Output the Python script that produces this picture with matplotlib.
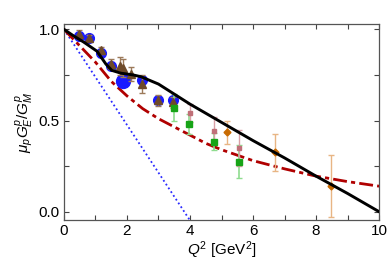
import matplotlib
matplotlib.use('Agg')
import matplotlib.pyplot as plt

plt.rcParams['font.family'] = ['Liberation Sans', 'DejaVu Sans']
plt.rcParams['mathtext.fontset'] = 'custom'
plt.rcParams['mathtext.rm'] = 'Liberation Sans'
plt.rcParams['mathtext.it'] = 'Liberation Sans:italic'

# theory curves
fit_q2 = [0, 0.3, 0.63, 1.05, 1.33, 1.52, 1.8, 2.2, 2.45, 3.0, 4.0, 5.0, 6.0, 7.0, 8.0, 9.0, 10.0]
fit_r = [1.0, 0.965, 0.93, 0.88, 0.81, 0.775, 0.76, 0.75, 0.74, 0.70, 0.59, 0.49, 0.39, 0.295, 0.195, 0.10, 0.0]

dd_q2 = [0, 0.5, 1.0, 1.5, 2.0, 2.5, 3.0, 3.5, 4.0, 4.5, 5.0, 6.0, 7.0, 8.0, 9.0, 10.0]
dd_r = [1.0, 0.91, 0.82, 0.715, 0.635, 0.565, 0.51, 0.465, 0.42, 0.375, 0.34, 0.28, 0.235, 0.195, 0.165, 0.14]

lin_q2 = [0, 4.0]
lin_r = [1.0, -0.048]

# data sets
tri_q2 = [0.49, 0.79, 1.18, 1.48, 1.77, 1.88, 2.13, 2.47, 2.97, 3.47]
tri_r = [0.975, 0.955, 0.885, 0.81, 0.80, 0.79, 0.755, 0.70, 0.61, 0.60]
tri_err = [0.02, 0.015, 0.02, 0.03, 0.05, 0.05, 0.04, 0.05, 0.03, 0.03]

circ_q2 = [0.49, 0.79, 1.18, 1.48, 2.47, 2.97, 3.47]
circ_r = [0.965, 0.95, 0.87, 0.80, 0.72, 0.61, 0.61]
circ_err = [0.015, 0.015, 0.02, 0.02, 0.02, 0.02, 0.02]

big_q2 = [1.88]
big_r = [0.715]
big_err = [0.02]

sq_q2 = [3.5, 3.97, 4.77, 5.54]
sq_r = [0.57, 0.48, 0.385, 0.275]
sq_err = [0.075, 0.055, 0.045, 0.09]

pink_q2 = [4.0, 4.77, 5.56]
pink_r = [0.54, 0.445, 0.35]
pink_err = [0.05, 0.075, 0.10]

dia_q2 = [5.17, 6.7, 8.49]
dia_r = [0.435, 0.325, 0.14]
dia_err = [0.065, 0.10, 0.17]

fig = plt.figure(figsize=(3.9, 2.78), dpi=100)
ax = fig.add_axes([0.164, 0.209, 0.808, 0.705])

ax.plot(lin_q2, lin_r, color='#2a2aff', ls=(0, (1, 1.5)), lw=1.3, zorder=2)
ax.plot(dd_q2, dd_r, color='#b00000', ls=(0, (5, 1.5, 1.5, 1.5)), lw=2, zorder=2)

ax.errorbar(circ_q2, circ_r, yerr=circ_err, fmt='o', color='#1a1aff', ms=7,
            ecolor='#6a6aff', elinewidth=1, capsize=2, zorder=3)
ax.errorbar(big_q2, big_r, yerr=big_err, fmt='o', color='#1a1aff', ms=10,
            ecolor='#6a6aff', elinewidth=1, capsize=2, zorder=3)
ax.errorbar(tri_q2, tri_r, yerr=tri_err, fmt='^', color='#6e4a2a', ms=5.5,
            ecolor='#9c7a5a', elinewidth=1, capsize=2, zorder=4)
ax.errorbar(sq_q2, sq_r, yerr=sq_err, fmt='s', color='#17a417', ms=5,
            ecolor='#8fdc8f', elinewidth=1.2, capsize=2, zorder=4)
ax.errorbar(pink_q2, pink_r, yerr=pink_err, fmt='s', color='#c07078', ms=3.5,
            ecolor='#d9a0a6', elinewidth=1, capsize=2, zorder=4)
ax.errorbar(dia_q2, dia_r, yerr=dia_err, fmt='D', color='#c86a00', ms=3.5,
            ecolor='#e8b584', elinewidth=1, capsize=2.5, zorder=4)

ax.plot(fit_q2, fit_r, color='black', lw=2.1, zorder=5)

ax.set_xlim(0, 10)
ax.set_ylim(-0.045, 1.03)
ax.set_xticks(range(0, 11))
ax.set_xticklabels(['0', '', '2', '', '4', '', '6', '', '8', '', '10'])
ax.set_yticks([0, 0.25, 0.5, 0.75, 1.0])
ax.set_yticklabels(['0.0', '', '0.5', '', '1.0'])
ax.tick_params(direction='in', top=True, right=True, length=3.5, width=0.8,
               labelsize=11, colors='#444444', labelcolor='black', pad=3)
for s in ax.spines.values():
    s.set_color('#555555')
    s.set_linewidth(0.9)

ax.set_xlabel('$Q^2$ [GeV$^2$]', fontsize=11, labelpad=1)
ax.set_ylabel(r'$\mu_p G_E^p/G_M^p$', fontsize=11, labelpad=3)

fig.savefig('out.png', dpi=100)
